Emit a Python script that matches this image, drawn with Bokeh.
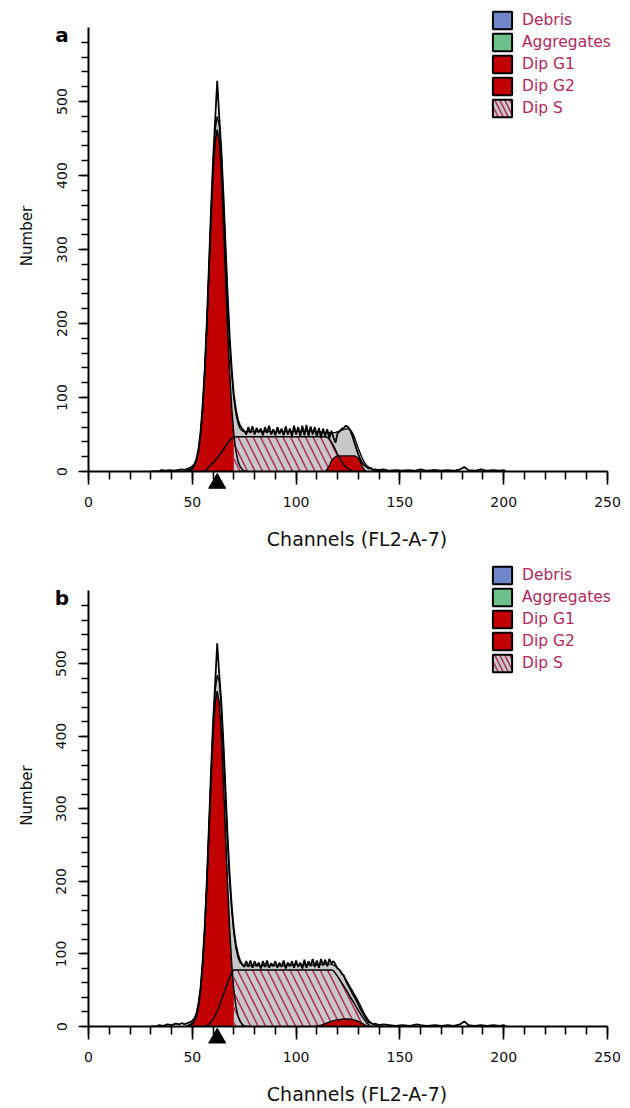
from bokeh.plotting import figure
from bokeh.models import FixedTicker, Legend, LegendItem, Range1d
from bokeh.layouts import column
from bokeh.core.properties import value
from bokeh.embed import file_html
from bokeh.resources import INLINE

# ---------------- data ----------------
X_TICKS = [0, 50, 100, 150, 200, 250]
X_MINOR = list(range(0, 251, 10))
Y_TICKS = [0, 100, 200, 300, 400, 500]
Y_MINOR = list(range(0, 600, 20))
LEGEND_LABELS = ["Debris", "Aggregates", "Dip G1", "Dip G2", "Dip S"]
G1_MEAN = 62

# Dip G1 (same in both panels)
g1_x = list(range(48, 77))
g1_y = [0, 1, 3, 7, 14, 28, 50, 85, 133, 195, 266, 338, 402, 446, 462,
        446, 402, 338, 266, 195, 133, 85, 50, 28, 14, 7, 3, 1, 0]

# ---- panel a ----
s_a_x = [55, 56, 57, 58, 59, 60, 61, 62, 63, 64, 65, 66, 67, 68, 69, 70,
         114, 115, 116, 117, 118, 119, 120, 121, 122, 123, 124, 125, 126, 127, 128]
s_a_y = [0, 1, 3, 6, 9, 12, 15, 18, 22, 26, 30, 34, 38, 42, 45, 47,
         47, 46, 44, 40, 35, 29, 23, 18, 13, 9, 6, 4, 2, 1, 0]
g2_a_x = [114, 115, 116, 117, 118, 119, 120, 122, 124, 126, 128, 129, 130, 131, 132, 133, 134]
g2_a_y = [0, 3, 8, 14, 18, 20, 21, 21, 21, 21, 21, 20, 18, 13, 6, 2, 0]
fit_a_x = [47, 48, 49, 50, 51, 52, 53, 54, 55, 56, 57, 58, 59, 60, 61, 62, 63, 64,
           65, 66, 67, 68, 69, 70, 71, 72, 73, 74, 75, 76, 78, 82, 86, 90, 95, 100,
           105, 110, 114, 117, 119, 121, 123, 125, 126, 127, 128, 129, 130, 131,
           132, 133, 134, 136, 138, 140, 143]
fit_a_y = [1, 2, 3, 5, 8, 15, 29, 51, 86, 135, 198, 272, 347, 414, 461, 480, 468, 428,
           368, 300, 233, 175, 131, 98, 78, 65, 58, 55, 54, 54, 54, 54, 54, 54, 54, 54,
           55, 54, 53, 52, 53, 55, 57, 58, 57, 53, 47, 39, 31, 24,
           17, 12, 8, 4, 2, 1, 0]
data_a_x = [30, 34, 35, 37, 39, 41, 43, 45, 46, 47, 48, 49, 50, 51, 52, 53, 54, 55,
            56, 57, 58, 59, 60, 61, 62, 63, 64, 65, 66, 67, 68, 69, 70, 71, 72, 73,
            74, 75, 76, 77, 78, 79, 80, 81, 82, 83, 84, 85, 86, 87, 88, 89, 90, 91,
            92, 93, 94, 95, 96, 97, 98, 99, 100, 101, 102, 103, 104, 105, 106, 107,
            108, 109, 110, 111, 112, 113, 114, 115, 116, 117, 118, 119, 120, 121,
            122, 123, 124, 125, 126, 127, 128, 129, 130, 131, 132, 133, 134, 135,
            136, 137, 138, 140, 142, 145, 148, 151, 154, 157, 160, 163, 166, 170,
            173, 176, 179, 181, 183, 186, 189, 192, 195, 198, 200, 201]
data_a_y = [0, 0, 2, 1, 2, 1, 2, 3, 2, 3, 4, 5, 7, 10, 17, 31, 54, 90,
            138, 202, 277, 352, 420, 474, 528, 478, 434, 374, 306, 240, 182, 138, 104, 84, 70, 62,
            58, 55, 50, 60, 52, 61, 50, 59, 53, 58, 49, 60, 52, 62, 50, 57, 49, 60,
            51, 58, 49, 61, 50, 58, 48, 62, 50, 60, 48, 62, 49, 63, 48, 61,
            50, 60, 47, 59, 46, 58, 48, 57, 45, 55, 46, 39, 52, 54,
            58, 59, 62, 60, 56, 49, 40, 31, 23, 16, 11, 8, 6, 4,
            5, 2, 3, 2, 3, 1, 2, 1, 2, 1, 3, 1, 2, 1,
            2, 1, 3, 6, 2, 1, 3, 1, 2, 1, 2, 0]

# ---- panel b ----
s_b_x = [56, 57, 58, 59, 60, 61, 62, 63, 64, 65, 66, 67, 68, 69, 70,
         117, 118, 120, 122, 124, 126, 128, 130, 132, 134, 136]
s_b_y = [0, 1, 3, 6, 10, 15, 21, 28, 36, 44, 52, 60, 68, 74, 78,
         78, 77, 69, 60, 51, 41, 32, 22, 13, 5, 0]
g2_b_x = [109, 112, 114, 116, 118, 120, 122, 124, 126, 128, 130, 132, 134, 135]
g2_b_y = [0, 2, 4, 6, 8, 9, 10, 10.5, 10, 9, 7, 4, 1, 0]
fit_b_x = [47, 48, 49, 50, 51, 52, 53, 54, 55, 56, 57, 58, 59, 60, 61, 62, 63, 64,
           65, 66, 67, 68, 69, 70, 71, 72, 73, 74, 75, 76, 80, 85, 90, 95, 100, 105,
           110, 114, 117, 119, 121, 123, 125, 127, 129, 131, 133, 135, 137, 139, 142]
fit_b_y = [1, 2, 3, 5, 8, 15, 29, 51, 86, 134, 197, 270, 345, 413, 462, 484, 475, 439,
           383, 319, 256, 202, 160, 129, 108, 95, 88, 85, 84, 84, 84, 84, 84, 84, 85, 85,
           85, 86, 86, 83, 77, 69, 60, 50, 40, 29, 17, 8, 3, 1, 0]
data_b_x = [30, 33, 34, 36, 38, 40, 42, 44, 45, 46, 47, 48, 49, 50, 51, 52, 53, 54,
            55, 56, 57, 58, 59, 60, 61, 62, 63, 64, 65, 66, 67, 68, 69, 70, 71, 72,
            73, 74, 75, 76, 77, 78, 79, 80, 81, 82, 83, 84, 85, 86, 87, 88, 89, 90,
            91, 92, 93, 94, 95, 96, 97, 98, 99, 100, 101, 102, 103, 104, 105, 106,
            107, 108, 109, 110, 111, 112, 113, 114, 115, 116, 117, 118, 119, 120,
            121, 122, 123, 124, 125, 126, 127, 128, 129, 130, 131, 132, 133, 134,
            135, 136, 137, 138, 140, 142, 145, 148, 151, 155, 158, 160, 163, 167,
            170, 173, 176, 179, 181, 183, 186, 189, 192, 195, 198, 200, 201]
data_b_y = [0, 0, 2, 1, 3, 2, 4, 3, 5, 3, 4, 5, 6, 8, 11, 18, 32, 54,
            90, 138, 201, 275, 350, 418, 472, 528, 484, 446, 390, 326, 262, 208, 166, 134, 113, 100,
            91, 86, 82, 90, 82, 91, 81, 90, 83, 88, 80, 90, 82, 91, 81, 87, 83, 90,
            81, 88, 82, 91, 80, 88, 83, 90, 81, 91, 82, 88, 80, 92, 81, 90,
            83, 93, 82, 91, 81, 93, 84, 92, 83, 93, 87, 90, 85, 80,
            78, 73, 70, 63, 57, 52, 46, 41, 36, 30, 24, 19, 14, 9,
            6, 5, 3, 4, 2, 3, 2, 1, 2, 1, 3, 2, 1, 2,
            1, 2, 1, 3, 7, 2, 1, 2, 1, 2, 1, 2, 0]

# ---------------- style ----------------
FONT = "DejaVu Sans"
RED = "#c20000"
GRAY = "#c8c8c8"
HATCH = "#b03062"
LEG_TEXT = "#b2285e"
FRAME_H = 471
PX_PER_UNIT = 0.74
Y_TOP = FRAME_H / PX_PER_UNIT
FRAME_W = 537            # frame spans 88..625 px; channel 250 lands at 607 px
X_PX_PER_UNIT = 2.076
X_END = FRAME_W / X_PX_PER_UNIT


def panel(letter, height, title_standoff, data_x, data_y, fit_x, fit_y,
          s_x, s_y, g2_x, g2_y):
    p = figure(width=630, height=height, x_range=Range1d(0, X_END),
               y_range=Range1d(0, Y_TOP), output_backend="svg",
               toolbar_location=None, title=None,
               min_border_left=88, min_border_right=630 - 88 - FRAME_W,
               min_border_top=0, min_border_bottom=height - FRAME_H)
    p.outline_line_color = None
    p.xgrid.visible = False
    p.ygrid.visible = False
    p.background_fill_color = "white"

    # filled areas
    p.varea(x=fit_x, y1=0, y2=fit_y, fill_color=GRAY)
    p.varea(x=g1_x, y1=0, y2=g1_y, fill_color=RED)
    hx = [x for x in s_x if x >= 70]
    hy = [y for x, y in zip(s_x, s_y) if x >= 70]
    p.varea(x=hx, y1=0, y2=hy, fill_color=GRAY, hatch_pattern="\\",
            hatch_color=HATCH, hatch_scale=15, hatch_weight=1.6)
    p.varea(x=g2_x, y1=0, y2=g2_y, fill_color=RED)

    # outlines
    p.line(s_x, s_y, line_color="black", line_width=1.5)
    p.line(g1_x, g1_y, line_color="black", line_width=1.5)
    p.line(g2_x, g2_y, line_color="black", line_width=1.3)
    p.line(fit_x, fit_y, line_color="black", line_width=1.3)
    p.line(data_x, data_y, line_color="black", line_width=1.8)

    # G1 mean marker
    p.scatter(x=[G1_MEAN], y=[-16], marker="triangle", size=17,
              fill_color="black", line_color="black", level="overlay")

    # axes
    xa = p.xaxis[0]
    xa.ticker = FixedTicker(ticks=X_TICKS, minor_ticks=X_MINOR)
    xa.bounds = (0, 250)
    ya = p.yaxis[0]
    ya.ticker = FixedTicker(ticks=Y_TICKS, minor_ticks=Y_MINOR)
    ya.bounds = (0, 600)
    for ax in (xa, ya):
        ax.axis_line_width = 2
        ax.axis_line_color = "black"
        ax.major_tick_in = 0
        ax.minor_tick_in = 0
        ax.major_tick_line_width = 1.6
        ax.minor_tick_line_width = 1.6
        ax.major_tick_line_color = "black"
        ax.minor_tick_line_color = "black"
        ax.major_label_text_font = FONT
        ax.major_label_text_font_size = "14px"
        ax.major_label_text_color = "#111111"
        ax.axis_label_text_font = FONT
        ax.axis_label_text_font_style = "normal"
        ax.axis_label_text_color = "#111111"
    xa.major_tick_out = 13
    xa.minor_tick_out = 8
    xa.major_label_standoff = 12
    xa.axis_label = "Channels (FL2-A-7)"
    xa.axis_label_text_font_size = "19px"
    xa.axis_label_standoff = title_standoff
    ya.major_tick_out = 10
    ya.minor_tick_out = 7
    ya.major_label_standoff = 12
    ya.major_label_orientation = "vertical"
    ya.axis_label = "Number"
    ya.axis_label_text_font_size = "15px"
    ya.axis_label_standoff = 18

    # panel letter
    p.text(x=[-12.8], y=[590], text=[letter], text_font=value(FONT),
           text_font_style="bold", text_font_size="20px", text_color="black",
           text_align="center", text_baseline="alphabetic", level="overlay")

    # legend (proxy quads lie outside the visible frame)
    fills = ["#6f86c9", "#6cc08a", RED, RED, GRAY]
    items = []
    for lab, fc in zip(LEGEND_LABELS, fills):
        kw = {}
        if lab == "Dip S":
            kw = dict(hatch_pattern="\\", hatch_color=HATCH, hatch_scale=10,
                      hatch_weight=1.6)
        r = p.quad(left=[-50], right=[-49], top=[-50], bottom=[-51],
                   fill_color=fc, line_color="black", line_width=2, **kw)
        items.append(LegendItem(label=lab, renderers=[r]))
    leg = Legend(items=items, location=(402, 352), border_line_color=None,
                 background_fill_alpha=0, padding=0, margin=0, spacing=0,
                 glyph_width=24, glyph_height=22, label_height=22,
                 label_standoff=8, label_text_font=FONT,
                 label_text_font_size="15.5px", label_text_color=LEG_TEXT)
    p.add_layout(leg)
    return p


p1 = panel("a", 564, 18, data_a_x, data_a_y, fit_a_x, fit_a_y,
           s_a_x, s_a_y, g2_a_x, g2_a_y)
p2 = panel("b", 543, 18, data_b_x, data_b_y, fit_b_x, fit_b_y,
           s_b_x, s_b_y, g2_b_x, g2_b_y)

layout = column(p1, p2, spacing=0)
open("out.html", "w").write(file_html(layout, INLINE))
